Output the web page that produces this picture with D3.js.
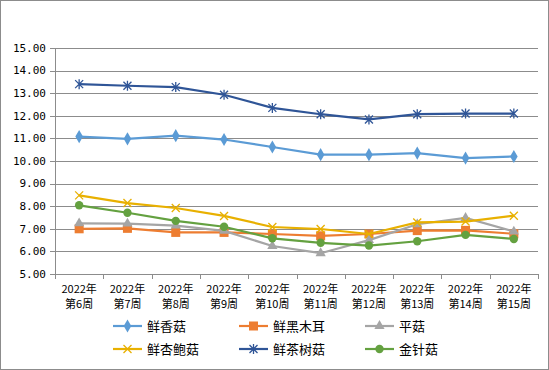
<!DOCTYPE html>
<meta charset="utf-8">
<style>
body { margin: 0; background: #fff; }
.xlab text { font: 11px "Noto Sans CJK SC", sans-serif; fill: #000; }
.ylab text { font-family: "DejaVu Sans Mono", monospace; font-size: 11px; }
</style>
<div id="chart"></div>
<script src="https://cdn.jsdelivr.net/npm/d3@7"></script>
<script>

var weeks = ["第6周", "第7周", "第8周", "第9周", "第10周", "第11周", "第12周", "第13周", "第14周", "第15周"];
var yTicks = [5, 6, 7, 8, 9, 10, 11, 12, 13, 14, 15];

var xiangGu   = [11.08, 10.98, 11.12, 10.95, 10.62, 10.28, 10.28, 10.35, 10.13, 10.20];
var heiMuEr   = [7.00, 7.02, 6.84, 6.84, 6.77, 6.69, 6.77, 6.92, 6.93, 6.78];
var pingGu    = [7.24, 7.23, 7.14, 6.91, 6.24, 5.92, 6.50, 7.20, 7.48, 6.88];
var xingBaoGu = [8.48, 8.14, 7.92, 7.57, 7.08, 6.99, 6.77, 7.28, 7.32, 7.58];
var chaShuGu  = [13.40, 13.33, 13.27, 12.93, 12.35, 12.07, 11.84, 12.07, 12.10, 12.10];
var jinZhenGu = [8.04, 7.71, 7.35, 7.09, 6.58, 6.38, 6.26, 6.45, 6.73, 6.55];

var series = [
  {name: "鲜香菇", values: xiangGu, color: "#5B9BD5", marker: "diamond"},
  {name: "鲜黑木耳", values: heiMuEr, color: "#ED7D31", marker: "square"},
  {name: "平菇", values: pingGu, color: "#A5A5A5", marker: "triangle"},
  {name: "鲜杏鲍菇", values: xingBaoGu, color: "#E8B000", marker: "x"},
  {name: "鲜茶树菇", values: chaShuGu, color: "#2F5597", marker: "star"},
  {name: "金针菇", values: jinZhenGu, color: "#64A140", marker: "circle"}
];

var W = 549, H = 370;
var svg = d3.select("#chart").append("svg").attr("width", W).attr("height", H);

svg.append("rect").attr("x", 0.5).attr("y", 0.5).attr("width", W - 1).attr("height", H - 1)
    .attr("fill", "#fff").attr("stroke", "#8c8c8c");

var plotL = 55, plotR = 538, plotT = 48, plotB = 274;

var x = d3.scaleBand().domain(weeks).range([plotL, plotR]);
var y = d3.scaleLinear().domain([5, 15]).range([plotB, plotT]);

// grid
svg.append("g").selectAll("line").data(yTicks).enter().append("line")
    .attr("x1", plotL).attr("x2", plotR)
    .attr("y1", function(d) { return Math.round(y(d)) + 0.5; })
    .attr("y2", function(d) { return Math.round(y(d)) + 0.5; })
    .attr("stroke", "#8c8c8c");

svg.append("line").attr("x1", plotL + 0.5).attr("x2", plotL + 0.5)
    .attr("y1", plotT).attr("y2", plotB).attr("stroke", "#8c8c8c");

// y labels
svg.append("g").attr("class", "ylab").selectAll("text").data(yTicks).enter().append("text")
    .attr("x", plotL - 9).attr("y", function(d) { return y(d); })
    .attr("dy", "0.35em").attr("text-anchor", "end")
    .text(function(d) { return d.toFixed(2); });

// y tick marks
svg.append("g").selectAll("line").data(yTicks).enter().append("line")
    .attr("x1", plotL - 5).attr("x2", plotL)
    .attr("y1", function(d) { return Math.round(y(d)) + 0.5; })
    .attr("y2", function(d) { return Math.round(y(d)) + 0.5; })
    .attr("stroke", "#8c8c8c");

// x tick marks between categories
var edges = weeks.map(function(w) { return x(w); }).concat([plotR]);
svg.append("g").selectAll("line").data(edges).enter().append("line")
    .attr("x1", function(d) { return Math.round(d) + 0.5; })
    .attr("x2", function(d) { return Math.round(d) + 0.5; })
    .attr("y1", plotB).attr("y2", plotB + 5).attr("stroke", "#8c8c8c");

// x labels (two lines each)
var xg = svg.append("g").attr("class", "xlab");
xg.selectAll("text.yr").data(weeks).enter().append("text").attr("class", "yr")
    .attr("text-anchor", "middle")
    .attr("x", function(d) { return x(d) + x.bandwidth() / 2; }).attr("y", 292.5)
    .text("2022年");
xg.selectAll("text.wk").data(weeks).enter().append("text").attr("class", "wk")
    .attr("text-anchor", "middle")
    .attr("x", function(d) { return x(d) + x.bandwidth() / 2; }).attr("y", 307.5)
    .text(function(d) { return d; });

var line = d3.line()
    .x(function(d, i) { return x(weeks[i]) + x.bandwidth() / 2; })
    .y(function(d) { return y(d); });

function drawMarker(g, type, color) {
  if (type === "diamond") {
    g.append("path").attr("d", d3.symbol(d3.symbolDiamond, 50)()).attr("fill", color);
  } else if (type === "square") {
    g.append("rect").attr("x", -4.5).attr("y", -4.5).attr("width", 9).attr("height", 9).attr("fill", color);
  } else if (type === "triangle") {
    g.append("path").attr("d", d3.symbol(d3.symbolTriangle, 45)()).attr("fill", color);
  } else if (type === "circle") {
    g.append("circle").attr("r", 4.2).attr("fill", color);
  } else if (type === "x") {
    g.append("path").attr("d", "M-4,-4L4,4M-4,4L4,-4").attr("stroke", color).attr("stroke-width", 1.3).attr("fill", "none");
  } else if (type === "star") {
    g.append("path").attr("d", "M-4,-4L4,4M-4,4L4,-4M0,-5L0,5").attr("stroke", color).attr("stroke-width", 1.3).attr("fill", "none");
  }
}

var order = [1, 2, 0, 5, 3, 4];
order.forEach(function(k) {
  var s = series[k];
  svg.append("path").datum(s.values).attr("d", line)
      .attr("fill", "none").attr("stroke", s.color).attr("stroke-width", 2.2);
  s.values.forEach(function(v, i) {
    var g = svg.append("g").attr("transform", "translate(" + (x(weeks[i]) + x.bandwidth() / 2) + "," + y(v) + ")");
    drawMarker(g, s.marker, s.color);
  });
});

// legend
var legCols = [113, 239, 365], legRows = [326, 349];
series.forEach(function(s, i) {
  var lx = legCols[i % 3], ly = legRows[Math.floor(i / 3)];
  var g = svg.append("g").attr("transform", "translate(" + lx + "," + ly + ")");
  g.append("line").attr("x1", 0).attr("x2", 29).attr("stroke", s.color).attr("stroke-width", 2.2);
  var m = g.append("g").attr("transform", "translate(14.5,0)");
  drawMarker(m, s.marker, s.color);
  g.append("text").attr("x", 34).attr("dy", "0.36em")
      .style("font", "13px 'Noto Sans CJK SC', sans-serif")
      .text(s.name);
});

</script>
